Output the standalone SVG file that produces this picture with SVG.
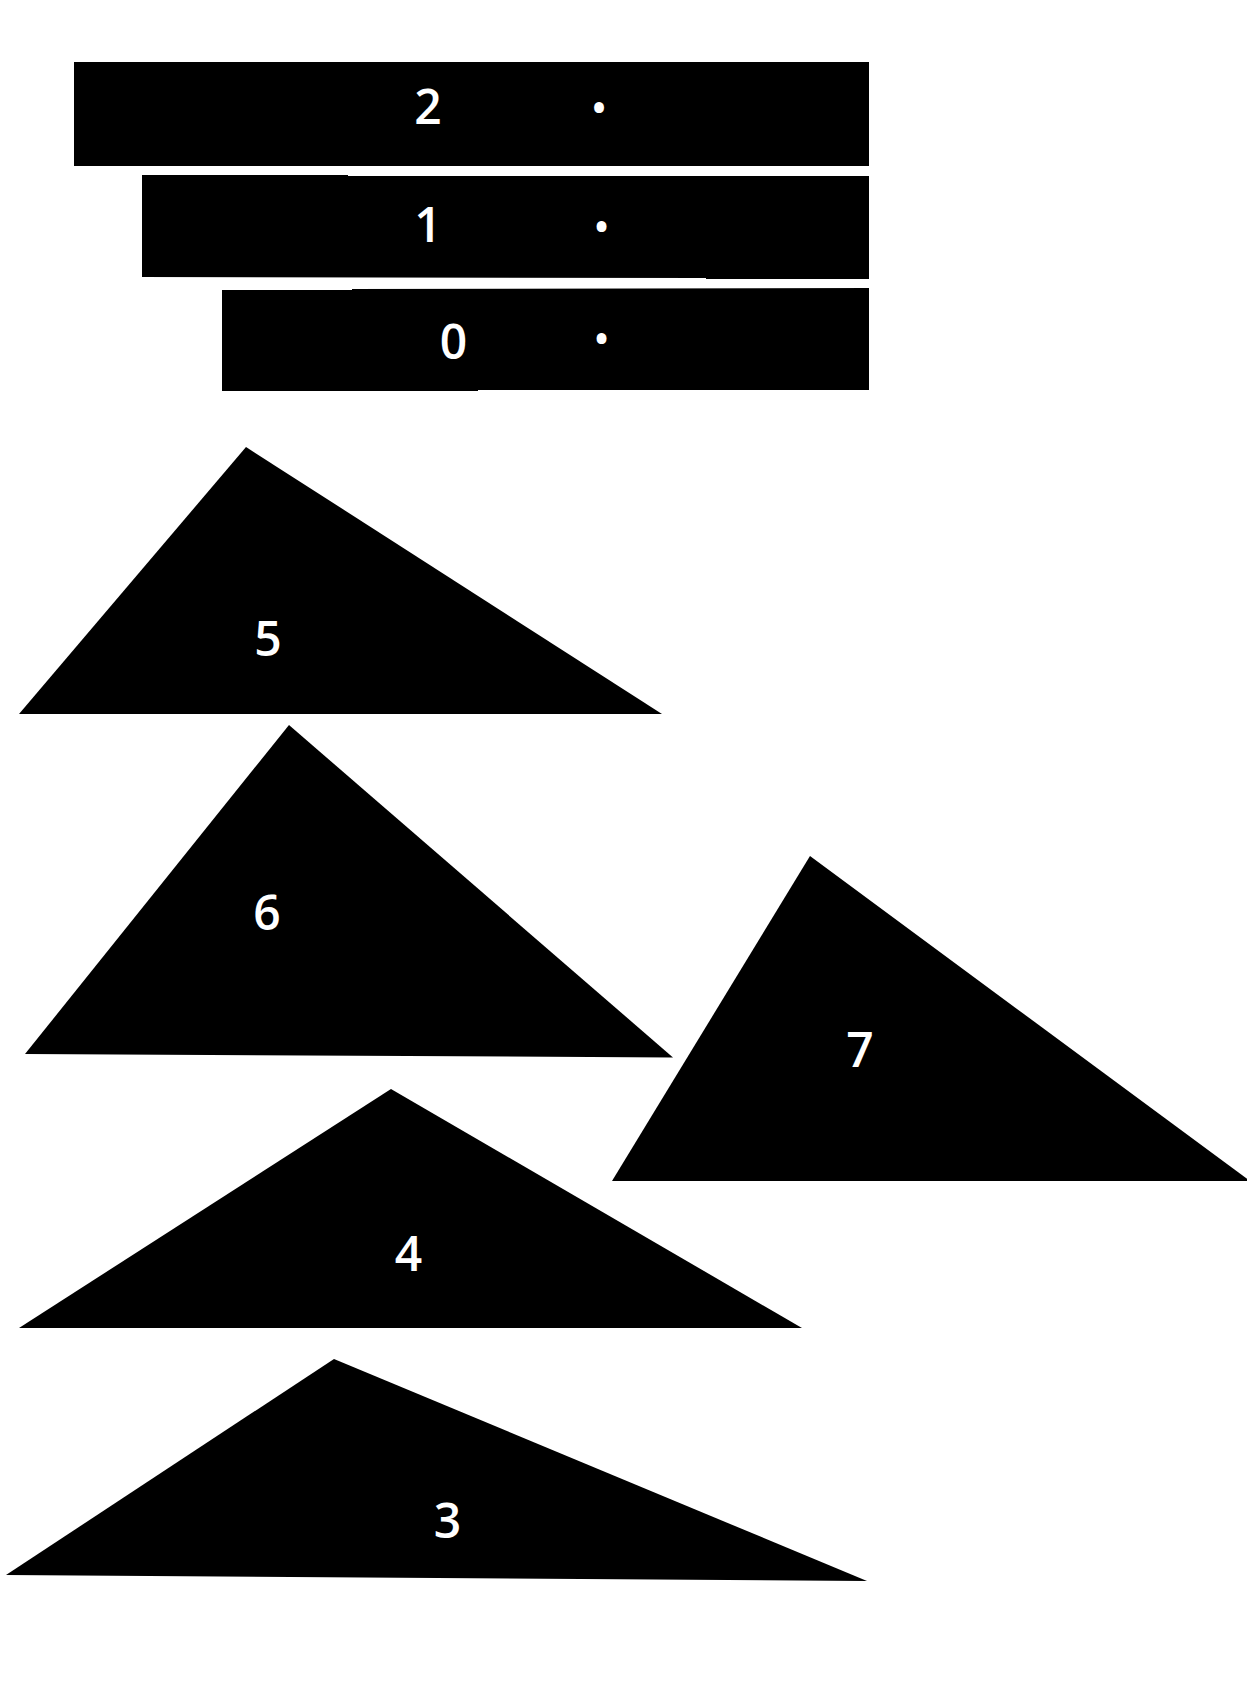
<svg xmlns="http://www.w3.org/2000/svg" width="1247" height="1705" viewBox="0 0 1247 1705">
<style>
.shape{fill:#000;stroke:none}
.lbl{font-family:"Open Sans","Noto Sans","DejaVu Sans",sans-serif;font-size:48px;font-weight:600;fill:#fff;text-anchor:middle}
.dot{font-family:"Open Sans","Noto Sans","DejaVu Sans",sans-serif;font-size:40px;font-weight:600;fill:#fff;text-anchor:middle}
</style>
<rect width="1247" height="1705" fill="#fff"/>
<g id="node-2">
<polygon class="shape" points="74,62 869,62 869,166 74,166"/>
<text class="lbl" x="428" y="124">2</text>
<text class="dot" x="599" y="122">•</text>
</g>
<g id="node-1">
<polygon class="shape" points="142,175 348,175 348,176 869,176 869,279 706,279 706,278 142,277"/>
<text class="lbl" x="428" y="242">1</text>
<text class="dot" x="601.5" y="241">•</text>
</g>
<g id="node-0">
<polygon class="shape" points="222,290 352,290 352,289 869,288 869,390 478,390 478,391 222,391"/>
<text class="lbl" x="453.5" y="359">0</text>
<text class="dot" x="601.5" y="353">•</text>
</g>
<g id="node-5">
<polygon class="shape" points="246,447 662,714 19,714"/>
<text class="lbl" x="268" y="656">5</text>
</g>
<g id="node-6">
<polygon class="shape" points="289,725 673,1057.5 25,1054"/>
<text class="lbl" x="267" y="930">6</text>
</g>
<g id="node-7">
<polygon class="shape" points="810,856 1250,1181 612,1181"/>
<text class="lbl" x="860" y="1067">7</text>
</g>
<g id="node-4">
<polygon class="shape" points="391,1089 802,1328 19,1328"/>
<text class="lbl" x="408.5" y="1271">4</text>
</g>
<g id="node-3">
<polygon class="shape" points="334,1359 867,1581 6,1575"/>
<text class="lbl" x="447.5" y="1538">3</text>
</g>
<g id="connectors"></g>
</svg>
